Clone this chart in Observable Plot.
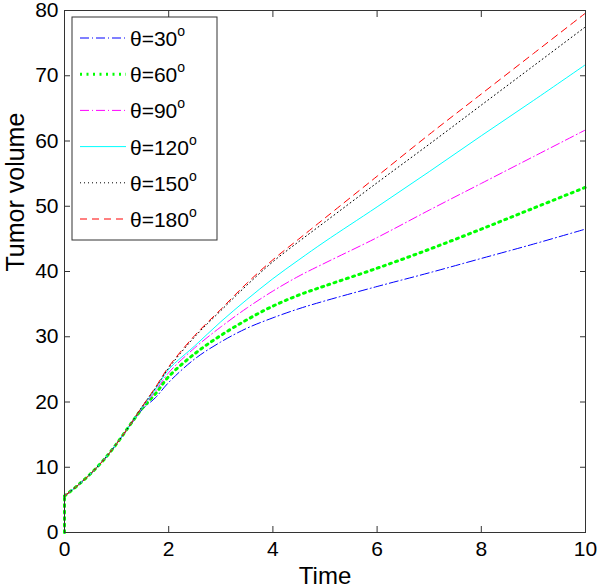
<!DOCTYPE html>
<html><head><meta charset="utf-8">
<script src="https://cdn.jsdelivr.net/npm/d3@7"></script>
<script src="https://cdn.jsdelivr.net/npm/@observablehq/plot@0.6"></script>
<style>
body{margin:0;background:#fff}
#chart{position:relative;width:600px;height:587px}
</style>
</head><body><div id="chart"></div>
<script>
// ---- data ----
const time     = [0, 0, 0.25, 0.5, 0.75, 1, 1.25, 1.5, 1.75, 2, 2.5, 3, 3.5, 4, 4.5, 5, 6, 7, 8, 9, 10];
const theta30  = [0, 5.6, 7.2, 9.0, 11.1, 13.6, 16.3, 18.9, 20.7, 23.0, 26.6, 29.2, 31.3, 32.9, 34.3, 35.5, 37.7, 39.8, 42.0, 44.2, 46.5];
const theta60  = [0, 5.6, 7.2, 9.0, 11.1, 13.6, 16.4, 19.1, 21.3, 23.9, 27.4, 30.2, 32.6, 34.7, 36.4, 37.8, 40.5, 43.4, 46.5, 49.7, 52.9];
const theta90  = [0, 5.6, 7.2, 9.0, 11.1, 13.6, 16.4, 19.2, 21.7, 24.5, 28.3, 31.5, 34.4, 37.0, 39.3, 41.3, 45.2, 49.4, 53.5, 57.6, 61.7];
const theta120 = [0, 5.6, 7.2, 9.0, 11.1, 13.6, 16.4, 19.3, 22.0, 25.0, 28.6, 32.3, 35.7, 38.9, 41.8, 44.6, 49.9, 55.3, 60.8, 66.2, 71.7];
const theta150 = [0, 5.6, 7.2, 9.0, 11.1, 13.6, 16.4, 19.4, 22.2, 25.2, 30.0, 34.0, 37.9, 41.5, 44.6, 47.6, 53.6, 59.5, 65.5, 71.5, 77.5];
const theta180 = [0, 5.6, 7.2, 9.0, 11.1, 13.6, 16.4, 19.4, 22.3, 25.4, 30.2, 34.2, 38.2, 41.8, 45.0, 48.2, 54.6, 61.0, 67.2, 73.4, 79.6];
const seriesLabels = ["30", "60", "90", "120", "150", "180"];
const xTicks = [0, 2, 4, 6, 8, 10];
const yTicks = [0, 10, 20, 30, 40, 50, 60, 70, 80];
const xLabel = "Time";
const yLabel = "Tumor volume";

// ---- styles ----
const seriesValues = [theta30, theta60, theta90, theta120, theta150, theta180];
const styles = [
  {stroke: "#0000ff", strokeWidth: 1, dash: "9,3,1,3"},
  {stroke: "#00ff00", strokeWidth: 3, dash: "2,4.5"},
  {stroke: "#ff00ff", strokeWidth: 1, dash: "9,3,1,3"},
  {stroke: "#00ffff", strokeWidth: 1, dash: null},
  {stroke: "#000000", strokeWidth: 1, dash: "1,3"},
  {stroke: "#ff0000", strokeWidth: 1, dash: "7,5"}
];
const axisColor = "#333";
const font = "'Liberation Sans', Arial, sans-serif";

const series = seriesValues.map(vals => time.map((t, i) => ({t, v: vals[i]})));

const lineMarks = series.flatMap((data, i) => {
  const o = {x: "t", y: "v", stroke: styles[i].stroke, strokeWidth: styles[i].strokeWidth,
             strokeDasharray: styles[i].dash};
  return [
    Plot.line(data.slice(0, 2), {...o, curve: "linear"}),
    Plot.line(data.slice(1), {...o, curve: "catmull-rom"})
  ];
});

const chart = Plot.plot({
  width: 600, height: 587,
  marginTop: 10, marginRight: 15, marginBottom: 55, marginLeft: 64,
  style: {fontFamily: font, background: "white", color: "black", overflow: "visible"},
  x: {domain: [0, 10]},
  y: {domain: [0, 80]},
  marks: [
    ...lineMarks,
    Plot.frame({stroke: axisColor}),
    Plot.axisX(xTicks, {anchor: "bottom", tickSize: -6, tickPadding: 15, fontSize: 21, label: null, stroke: axisColor}),
    Plot.axisX(xTicks, {anchor: "top", tickSize: -6, tickFormat: () => "", label: null, stroke: axisColor}),
    Plot.axisY(yTicks, {anchor: "left", tickSize: -6, tickPadding: 12, fontSize: 21, label: null, stroke: axisColor}),
    Plot.axisY(yTicks, {anchor: "right", tickSize: -6, tickFormat: () => "", label: null, stroke: axisColor}),
    Plot.text([xLabel], {text: d => d, frameAnchor: "bottom", dy: 51, lineAnchor: "bottom", fontSize: 24}),
    Plot.text([yLabel], {text: d => d, frameAnchor: "left", rotate: -90, dx: -41, lineAnchor: "bottom", fontSize: 25})
  ]
});
document.getElementById("chart").appendChild(chart);

// ---- legend ----
const svg = d3.select(chart);
const lg = svg.append("g").attr("font-family", font).attr("text-anchor", "start");
const box = {x: 72, y: 17, w: 145, h: 223};
lg.append("rect").attr("x", box.x).attr("y", box.y).attr("width", box.w).attr("height", box.h)
  .attr("fill", "white").attr("stroke", axisColor).attr("stroke-width", 1);
seriesLabels.forEach((lab, i) => {
  const cy = 38 + i * 36.2;
  const ln = lg.append("line").attr("x1", 80).attr("x2", 126).attr("y1", cy).attr("y2", cy)
    .attr("stroke", styles[i].stroke).attr("stroke-width", styles[i].strokeWidth);
  if (styles[i].dash) ln.attr("stroke-dasharray", styles[i].dash);
  const tx = lg.append("text").attr("x", 130).attr("y", cy + 8).attr("font-size", 21)
    .attr("fill", "black").attr("text-anchor", "start");
  tx.append("tspan").text("\u03b8=" + lab);
  tx.append("tspan").attr("font-size", 14).attr("dy", -10).text("o");
});
</script>
</body></html>
